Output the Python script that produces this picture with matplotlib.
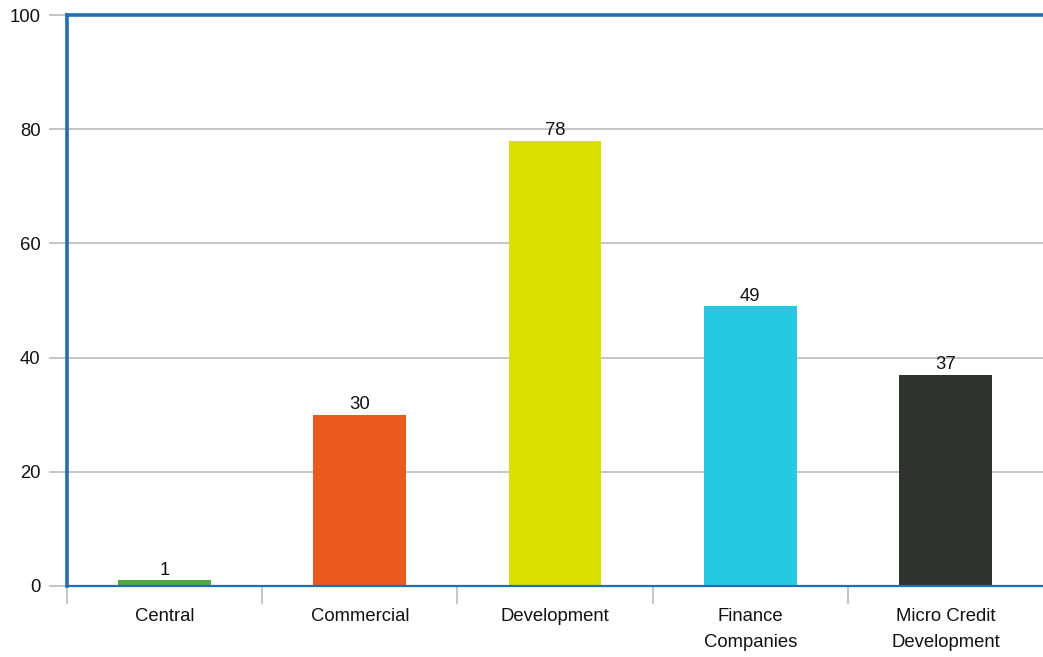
import matplotlib
matplotlib.use("Agg")
import matplotlib.pyplot as plt
import numpy as np

categories = ["Central", "Commercial", "Development", "Finance\nCompanies", "Micro Credit\nDevelopment"]
values = [1, 30, 78, 49, 37]
colors = ["#52a845", "#ea5a1f", "#dbe000", "#27c9e2", "#2f332f"]
yticks = [0, 20, 40, 60, 80, 100]

plt.rcParams['font.family'] = ['Liberation Sans', 'DejaVu Sans']

fig = plt.figure(figsize=(10.43, 6.57), dpi=100)
ax = fig.add_axes([67/1043, 71/657, 1 - 67/1043, (586-15)/657])

x = np.arange(len(categories))
bars = ax.bar(x, values, width=0.475, color=colors, zorder=3)
for xi, v in zip(x, values):
    ax.annotate(str(v), (xi, v), xytext=(0, 1.2), textcoords="offset points",
                ha="center", va="bottom", fontsize=13.3, color="#111111", zorder=4)

ax.set_xlim(-0.5, len(categories) - 0.5)
ax.set_ylim(0, 100)
ax.set_yticks(yticks)
ax.set_yticklabels([str(t) for t in yticks])

# category boundaries as major ticks, labels at minor ticks
ax.set_xticks(np.arange(len(categories)) - 0.5)
ax.set_xticklabels([])
ax.set_xticks(x, minor=True)
ax.set_xticklabels(categories, minor=True, fontsize=13.3, color="#111111", linespacing=1.68)
ax.tick_params(axis="x", which="major", length=13, color="#c0c0c0", width=1.3)
ax.tick_params(axis="x", which="minor", length=0, pad=16)
ax.tick_params(axis="y", length=13, color="#c0c0c0", width=1.3, labelsize=13.3,
               labelcolor="#111111", pad=6)

ax.yaxis.grid(True, color="#c0c0c0", linewidth=1.3, zorder=0)
ax.set_axisbelow(True)

blue = "#1f6eb6"
ax.spines["right"].set_visible(False)
ax.spines["left"].set_color(blue)
ax.spines["left"].set_linewidth(2.6)
ax.spines["top"].set_color(blue)
ax.spines["top"].set_linewidth(2.6)
ax.spines["bottom"].set_color(blue)
ax.spines["bottom"].set_linewidth(1.6)
for s in ax.spines.values():
    s.set_zorder(5)

fig.savefig("out.png", dpi=100)
